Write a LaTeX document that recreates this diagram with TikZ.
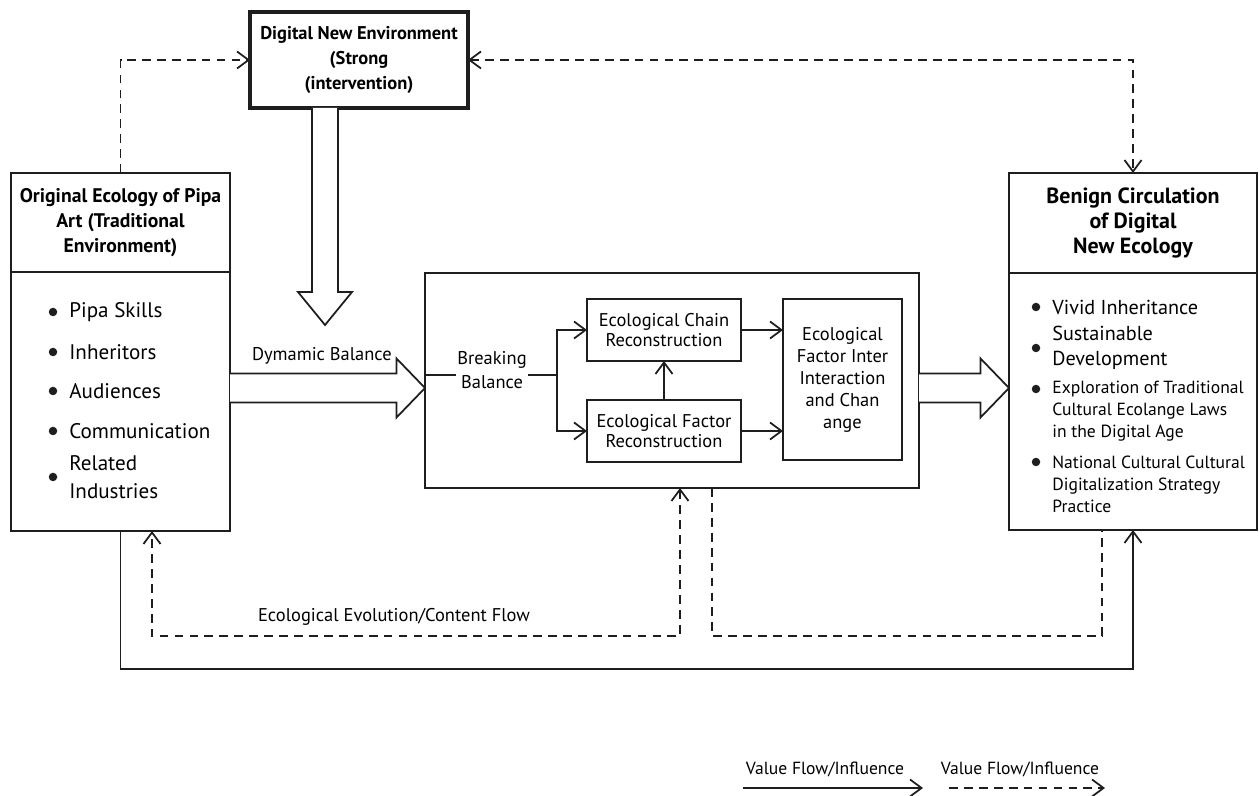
\documentclass[tikz,border=0pt]{standalone}
\usepackage{fontspec}
\setmainfont{PT Sans}
\usetikzlibrary{arrows.meta,calc,positioning}
\definecolor{lineBlack}{HTML}{1E1E1E}
\tikzset{
  arrow/.style={-{Straight Barb[length=2.3mm,width=3.4mm]}, draw=lineBlack, line width=1pt},
  dasharrow/.style={-{Straight Barb[length=2.3mm,width=3.4mm]}, draw=lineBlack, line width=1pt, dash pattern=on 5pt off 3.5pt},
  dashboth/.style={{Straight Barb[length=2.3mm,width=3.4mm]}-{Straight Barb[length=2.3mm,width=3.4mm]}, draw=lineBlack, line width=1pt, dash pattern=on 5pt off 3.5pt},
  dashline/.style={draw=lineBlack, line width=1pt, dash pattern=on 5pt off 3.5pt},
  hollow/.style={draw=lineBlack, line width=1pt, fill=white, line join=miter},
  box/.style={rectangle, draw=lineBlack, line width=1pt, fill=white, outer sep=0pt, align=center, inner sep=3pt},
  headBox/.style={box, font=\bfseries\fontsize{10.5}{14.3}\selectfont},
  stepBox/.style={box, font=\fontsize{10.5}{11.5}\selectfont},
  item/.style={anchor=west, align=left, inner sep=0pt, font=\fontsize{12}{16}\selectfont},
  smallItem/.style={anchor=west, align=left, inner sep=0pt, font=\fontsize{10}{12.5}\selectfont},
  flowLabel/.style={font=\fontsize{10}{12}\selectfont, inner sep=1pt}
}
\newcommand{\itemDot}[2]{%
  \fill[lineBlack] ($(#1)+(-0.32,#2)$) circle (0.085);
}
\newcommand{\fatArrowH}[3]{%
  \draw[hollow] (#1,#3+0.29) -- (#2-0.57,#3+0.29) -- (#2-0.57,#3+0.59) -- (#2,#3)
    -- (#2-0.57,#3-0.59) -- (#2-0.57,#3-0.29) -- (#1,#3-0.29);
}
\newcommand{\fatArrowV}[3]{%
  \draw[hollow] (#1-0.26,#2) -- (#1-0.26,#3+0.66) -- (#1-0.54,#3+0.66) -- (#1,#3)
    -- (#1+0.54,#3+0.66) -- (#1+0.26,#3+0.66) -- (#1+0.26,#2);
}

\begin{document}
\begin{tikzpicture}[x=1cm,y=1cm]
\useasboundingbox (0,0) rectangle (25.2,15.9);

% --------------------------------------------------------------------------
% Environments
% --------------------------------------------------------------------------
\node[headBox, line width=2pt, minimum width=4.36cm, minimum height=1.92cm] (digital) at (7.18,14.70) {Digital New Environment\\(Strong\\(intervention)};

\node[headBox, font=\bfseries\fontsize{11.2}{14.3}\selectfont, minimum width=4.38cm, minimum height=1.98cm] (origHead) at (2.41,11.45) {Original Ecology of Pipa\\Art (Traditional\\Environment)};
\node[box, minimum width=4.38cm, minimum height=5.18cm, below=0pt of origHead] (origBody) {};

\node[headBox, font=\bfseries\fontsize{12.5}{14.5}\selectfont, minimum width=4.96cm, minimum height=2.0cm] (benHead) at (22.66,11.44) {Benign Circulation\\of Digital\\New Ecology};
\node[box, minimum width=4.96cm, minimum height=5.14cm, below=0pt of benHead] (benBody) {};

% bullet lists
\node[item] (oSkills) at (1.38,9.66) {Pipa Skills};
\itemDot{oSkills.west}{0}
\node[item] (oHeirs) at (1.38,8.86) {Inheritors};
\itemDot{oHeirs.west}{0}
\node[item] (oAudience) at (1.38,8.08) {Audiences};
\itemDot{oAudience.west}{0}
\node[item] (oComm) at (1.38,7.28) {Communication};
\itemDot{oComm.west}{0}
\node[item] (oIndustry) at (1.38,6.36) {Related\\Industries};
\itemDot{oIndustry.west}{0}

\node[item, font=\fontsize{11.5}{14}\selectfont] (nVivid) at (21.04,9.76) {Vivid Inheritance};
\itemDot{nVivid.west}{0}
\node[item, font=\fontsize{11.5}{14}\selectfont] (nSustain) at (21.04,8.94) {Sustainable\\Development};
\itemDot{nSustain.west}{0}
\node[smallItem] (nExplore) at (21.04,7.68) {Exploration of Traditional\\Cultural Ecolange Laws\\in the Digital Age};
\itemDot{nExplore.west}{0.44}
\node[smallItem] (nNational) at (21.04,6.22) {National Cultural Cultural\\Digitalization Strategy\\Practice};
\itemDot{nNational.west}{0.44}

% --------------------------------------------------------------------------
% Reconstruction stage
% --------------------------------------------------------------------------
\node[box, minimum width=9.88cm, minimum height=4.30cm] (stage) at (13.44,8.29) {};
\node[stepBox, minimum width=3.08cm, minimum height=1.24cm] (chain) at (13.28,9.30) {Ecological Chain\\Reconstruction};
\node[stepBox, minimum width=3.08cm, minimum height=1.24cm] (factor) at (13.28,7.28) {Ecological Factor\\Reconstruction};
\node[stepBox, font=\fontsize{10.5}{12.5}\selectfont, minimum width=2.38cm, minimum height=3.22cm] (inter) at (16.85,8.31) {Ecological\\Factor Inter\\Interaction\\and Chan\\ange};

\coordinate (split) at (11.14,8.40);
\draw[draw=lineBlack, line width=1pt] (stage.west |- split) -- (split);
\node[font=\fontsize{10.5}{13.5}\selectfont, align=center, fill=white, inner sep=1pt] (breaking) at (9.84,8.50) {Breaking\\Balance};
\draw[arrow] (split) |- (chain.west);
\draw[arrow] (split) |- (factor.west);
\draw[arrow] (factor.north) -- (chain.south);
\draw[arrow] (chain.east) -- (chain.east -| inter.west);
\draw[arrow] (factor.east) -- (factor.east -| inter.west);

% --------------------------------------------------------------------------
% Flows
% --------------------------------------------------------------------------
\fatArrowV{6.50}{13.74}{9.40}
\fatArrowH{4.60}{8.50}{8.14}
\node[flowLabel, font=\fontsize{10.5}{12}\selectfont] (dynamic) at (6.44,8.78) {Dymamic Balance};
\fatArrowH{18.38}{20.18}{8.14}

\draw[dasharrow] (origHead.north) |- (digital.west);
\draw[dashboth] (digital.east) -| (benHead.north);

\coordinate (evoL) at ($(origBody.south)+(0.63,0)$);
\coordinate (evoR) at ($(stage.south)+(0.16,0)$);
\draw[dashboth] (evoR) -- ++(0,-2.96) -| (evoL);
\node[flowLabel, font=\fontsize{10.5}{12}\selectfont] (evoLabel) at (7.88,3.56) {Ecological Evolution/Content Flow};

\coordinate (outL) at ($(stage.south)+(0.80,0)$);
\coordinate (outR) at ($(benBody.south)+(-0.62,0)$);
\draw[dashline] (outL) -- ++(0,-2.96) -| (outR);

\draw[arrow] (origBody.south) -- ++(0,-2.76) -| (benBody.south);

% legend
\coordinate (lgSolidA) at (14.86,0.14);
\coordinate (lgSolidB) at (18.46,0.14);
\draw[arrow] (lgSolidA) -- (lgSolidB);
\node[flowLabel] (lgSolid) at (16.50,0.52) {Value Flow/Influence};
\coordinate (lgDashA) at (18.98,0.14);
\coordinate (lgDashB) at (22.10,0.14);
\draw[dasharrow] (lgDashA) -- (lgDashB);
\node[flowLabel] (lgDash) at (20.40,0.52) {Value Flow/Influence};

\end{tikzpicture}
\end{document}
